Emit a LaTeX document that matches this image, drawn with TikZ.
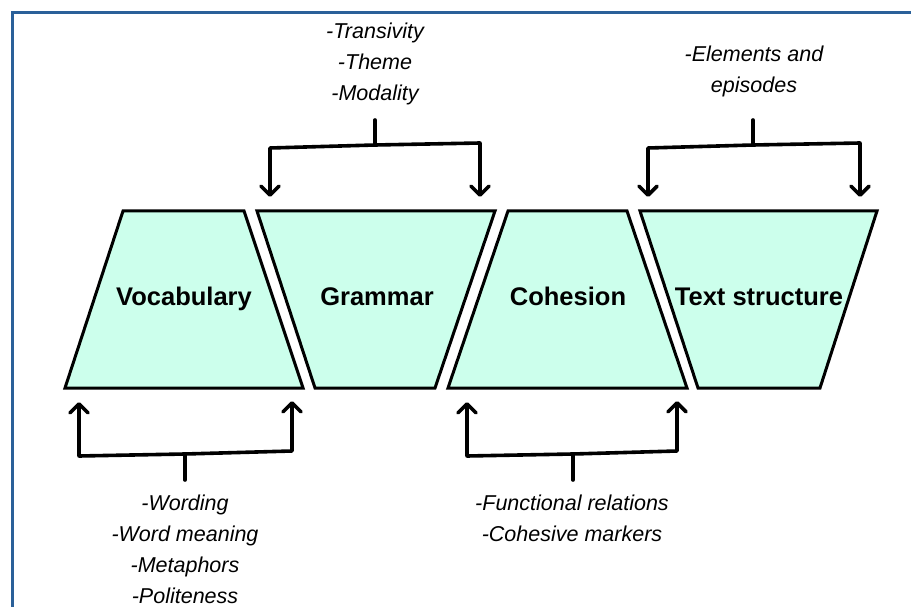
\documentclass[tikz,border=0pt]{standalone}
\usepackage{fontspec}
\setmainfont{Liberation Sans}
\usetikzlibrary{arrows.meta}
\definecolor{mint}{RGB}{204,255,236}
\definecolor{frameblue}{RGB}{42,96,153}
\begin{document}
\begin{tikzpicture}[x=1pt,y=-1pt,
  shapebox/.style={draw=black,line width=3pt,fill=mint,line join=miter},
  boxlabel/.style={font=\fontsize{25.5}{30}\selectfont\bfseries, inner sep=0pt, anchor=base},
  note/.style={font=\fontsize{21.5}{31}\selectfont\itshape, align=center, inner sep=0pt},
  link/.style={line width=3.6pt, line cap=round, line join=round},
  tip/.style={-{Straight Barb[length=9pt,width=18pt,line cap=round,line join=round]}}]
\clip (0,0) rectangle (911,607);
\fill[white] (0,0) rectangle (911,607);
\draw[frameblue, line width=3.5pt] (12.5,12.5) rectangle (950,650);

% trapezoids
\draw[shapebox] (123,211) -- (244,211) -- (303,388) -- (65,388) -- cycle;
\draw[shapebox] (257,211) -- (495,211) -- (435,388) -- (315,388) -- cycle;
\draw[shapebox] (508,211) -- (627,211) -- (687,388) -- (448,388) -- cycle;
\draw[shapebox] (640,211) -- (877,211) -- (820,388) -- (698,388) -- cycle;

\node[boxlabel] (voc) at (184,305) {Vocabulary};
\node[boxlabel] (gram) at (377,305) {Grammar};
\node[boxlabel] (coh) at (568,305) {Cohesion};
\node[boxlabel] (txt) at (759,305) {Text structure};

% notes
\node[note] (gnote) at (375,64) {-Transivity\\-Theme\\-Modality};
\node[note] (tnote) at (754,71) {-Elements and\\episodes};
\node[note] (vnote) at (185,549) {-Wording\\-Word meaning\\-Metaphors\\-Politeness};
\node[note] (cnote) at (572,518) {-Functional relations\\-Cohesive markers};

% connector coordinates
\coordinate (gs) at (375,120); \coordinate (gj) at (375,145);
\coordinate (gl) at (270,148); \coordinate (gr) at (480,143);
\coordinate (gL) at (270,197); \coordinate (gR) at (480,197);

\coordinate (ts) at (753,120); \coordinate (tj) at (753,145);
\coordinate (tl) at (648,148); \coordinate (tr) at (860,143);
\coordinate (tL) at (648,197); \coordinate (tR) at (860,197);

\coordinate (vs) at (185,480); \coordinate (vj) at (185,454);
\coordinate (vl) at (79,456); \coordinate (vr) at (292,451);
\coordinate (vL) at (79,402); \coordinate (vR) at (292,401);

\coordinate (cs) at (573,480); \coordinate (cj) at (573,454);
\coordinate (cl) at (467,456); \coordinate (cr) at (677,451);
\coordinate (cL) at (467,402); \coordinate (cR) at (677,401);

\draw[link] (gs) -- (gj);
\draw[link,tip] (gj) -- (gl) -- (gL);
\draw[link,tip] (gj) -- (gr) -- (gR);

\draw[link] (ts) -- (tj);
\draw[link,tip] (tj) -- (tl) -- (tL);
\draw[link,tip] (tj) -- (tr) -- (tR);

\draw[link] (vs) -- (vj);
\draw[link,tip] (vj) -- (vl) -- (vL);
\draw[link,tip] (vj) -- (vr) -- (vR);

\draw[link] (cs) -- (cj);
\draw[link,tip] (cj) -- (cl) -- (cL);
\draw[link,tip] (cj) -- (cr) -- (cR);
\end{tikzpicture}
\end{document}
